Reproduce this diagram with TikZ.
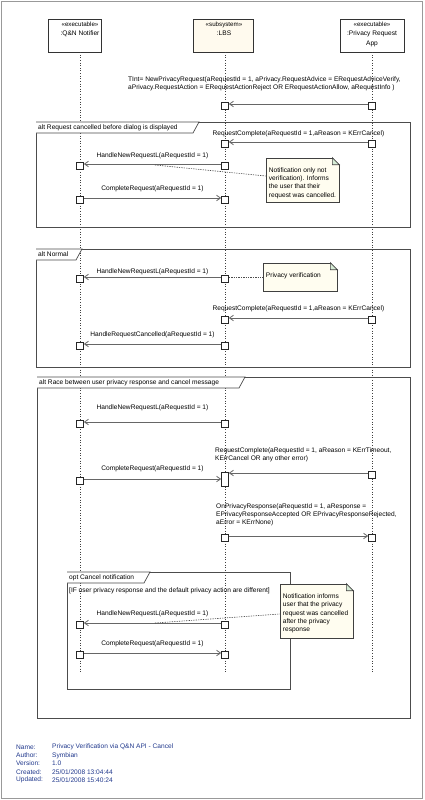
\documentclass[tikz,border=0pt]{standalone}
\usepackage{fontspec}
\setmainfont{Liberation Sans}
\usetikzlibrary{arrows.meta}
\definecolor{lbsfill}{RGB}{255,250,238}
\definecolor{notefill}{RGB}{255,253,240}
\definecolor{earfill}{RGB}{214,236,214}
\definecolor{infoblue}{RGB}{32,56,140}
\newcommand\msgfont{\fontsize{6.6}{8}\selectfont}
\newcommand\notefont{\fontsize{6.6}{8.3}\selectfont}
\newcommand\stfont{\fontsize{6.2}{9.3}\selectfont}
% folded corner of a note
\newcommand\dogear[1]{%
  \fill[white] ([xshift=-7pt,yshift=0.6pt]#1.north east) -- ([xshift=0.6pt,yshift=0.6pt]#1.north east) -- ([xshift=0.6pt,yshift=-7pt]#1.north east) -- cycle;
  \draw[notebody, fill=earfill] ([xshift=-7pt]#1.north east) -- ([xshift=-7pt,yshift=-7pt]#1.north east) -- ([yshift=-7pt]#1.north east) -- cycle;}

\begin{document}
\begin{tikzpicture}[x=1pt, y=-1pt,
  head/.style = {draw=black!80, minimum height=33pt, inner sep=0, line width=0.6pt},
  headtxt/.style = {align=center, font=\fontsize{6.6}{9.3}\selectfont, inner sep=0, anchor=north},
  act/.style = {draw=black!85, fill=white, minimum width=7pt, minimum height=7pt, inner sep=0, line width=0.6pt},
  life/.style = {draw=black!75, dotted, line width=0.6pt},
  msg/.style = {draw=black!60, line width=0.8pt, -{Straight Barb[length=4pt,width=5.5pt]}},
  lbl/.style = {font=\msgfont, inner sep=0},
  frame/.style = {draw=black!70, line width=0.7pt},
  tabshape/.style = {draw=black!70, line width=0.7pt, fill=white},
  notebody/.style = {draw=black!75, fill=notefill, inner sep=0, line width=0.6pt},
  notetxt/.style = {font=\notefont, align=left, inner sep=0, anchor=north west},
  link/.style = {draw=black!70, dash pattern=on 1.3pt off 1.1pt, line width=0.6pt},
  info/.style = {font=\msgfont, text=infoblue, inner sep=0, anchor=west}]

\useasboundingbox (0,0) rectangle (424,800);
\draw[black!40, line width=1.4pt] (1.5,1.5) rectangle (422.5,798.5);

% lifeline heads
\node[head, minimum width=53pt] (qn) at (74.5,35.5) {};
\node[head, minimum width=60pt, fill=lbsfill] (ln) at (223,35.5) {};
\node[head, minimum width=64pt] (pn) at (372,35.5) {};
\node[headtxt] (qnt) at (80,22) {{\stfont «executable»}\\:Q\&N Notifier};
\node[headtxt] (lnt) at (224,22) {{\stfont «subsystem»}\\:LBS};
\node[headtxt] (pnt) at (372,22) {{\stfont «executable»}\\:Privacy Request\\App};

\coordinate (qend) at (80,672);
\coordinate (lend) at (225,672);
\coordinate (pend) at (372,672);
\draw[life] (qn.south -| qend) -- (qend);
\draw[life] (ln.south -| lend) -- (lend);
\draw[life] (pn.south -| pend) -- (pend);

% combined fragments
\draw[frame] (36,122) rectangle (410,227);
\draw[tabshape] (36,122) -- (199,122) -- (193,133) -- (36,133);
\node[lbl, anchor=west] (f1) at (38,127.5) {alt Request cancelled before dialog is displayed};

\draw[frame] (36,249) rectangle (410,367);
\draw[tabshape] (36,249) -- (82,249) -- (76,260) -- (36,260);
\node[lbl, anchor=west] (f2) at (38,254.5) {alt Normal};

\draw[frame] (37,377) rectangle (410,718);
\draw[tabshape] (37,377) -- (245,377) -- (239,388) -- (37,388);
\node[lbl, anchor=west] (f3) at (39,382.5) {alt Race between user privacy response and cancel message};

\draw[frame] (67,572) rectangle (290,689);
\draw[tabshape] (67,572) -- (150,572) -- (144,583) -- (67,583);
\node[lbl, anchor=west] (f4) at (69,577.5) {opt Cancel notification};
\node[lbl, anchor=west] (g4) at (69,591) {[IF user privacy response and the default privacy action are different]};

% activations
\node[act] (l1) at (225,106) {};
\node[act] (p1) at (372,106) {};
\node[act] (l2) at (225,144) {};
\node[act] (p2) at (372,144) {};
\node[act] (q3) at (80,166) {};
\node[act] (l3) at (225,166) {};
\node[act] (q4) at (80,200) {};
\node[act] (l4) at (225,200) {};
\node[act] (q5) at (80,279) {};
\node[act] (l5) at (225,279) {};
\node[act] (l6) at (225,320) {};
\node[act] (p6) at (372,320) {};
\node[act] (q7) at (80,346) {};
\node[act] (l7) at (225,346) {};
\node[act] (q8) at (80,424) {};
\node[act] (l8) at (225,424) {};
\node[act] (p9) at (372,475) {};
\node[act, minimum height=14pt] (l9) at (225,479) {};
\node[act] (q10) at (80,481) {};
\node[act] (l11) at (225,538) {};
\node[act] (p11) at (372,538) {};
\node[act] (q12) at (80,625) {};
\node[act] (l12) at (225,625) {};
\node[act] (q13) at (80,655) {};
\node[act] (l13) at (225,655) {};

% messages
\node[lbl, anchor=west, align=left] (m1) at (128,84) {TInt= NewPrivacyRequest(aRequestId = 1, aPrivacy.RequestAdvice = ERequestAdviceVerify,\\aPrivacy.RequestAction = ERequestActionReject OR ERequestActionAllow, aRequestInfo )};
\draw[msg] ([yshift=2pt]p1.west) -- ([yshift=2pt]l1.east);

\draw[msg] ([yshift=2pt]p2.west) -- node[lbl, yshift=8pt] {RequestComplete(aRequestId = 1,aReason = KErrCancel)} ([yshift=2pt]l2.east);
\draw[msg] ([yshift=2pt]l3.west) -- node[lbl, yshift=8pt] {HandleNewRequestL(aRequestId = 1)} ([yshift=2pt]q3.east);
\draw[msg] ([yshift=2pt]q4.east) -- node[lbl, yshift=9pt] {CompleteRequest(aRequestId = 1)} ([yshift=2pt]l4.west);

\draw[msg] ([yshift=2pt]l5.west) -- node[lbl, yshift=5.5pt] {HandleNewRequestL(aRequestId = 1)} ([yshift=2pt]q5.east);
\draw[msg] ([yshift=2pt]p6.west) -- node[lbl, yshift=9pt] {RequestComplete(aRequestId = 1,aReason = KErrCancel)} ([yshift=2pt]l6.east);
\draw[msg] ([yshift=2pt]l7.west) -- node[lbl, yshift=9pt] {HandleRequestCancelled(aRequestId = 1)} ([yshift=2pt]q7.east);

\draw[msg] ([yshift=2pt]l8.west) -- node[lbl, yshift=14pt] {HandleNewRequestL(aRequestId = 1)} ([yshift=2pt]q8.east);
\node[lbl, anchor=west, align=left] (m9) at (215,455) {RequestComplete(aRequestId = 1, aReason = KErrTimeout,\\KErrCancel OR any other error)};
\draw[msg] ([yshift=2pt]p9.west) -- ([yshift=6pt]l9.east);
\draw[msg] ([yshift=2pt]q10.east) -- node[lbl, yshift=10pt] {CompleteRequest(aRequestId = 1)} (l9.west);
\node[lbl, anchor=west, align=left] (m11) at (216,515) {OnPrivacyResponse(aRequestId = 1, aResponse =\\EPrivacyResponseAccepted OR EPrivacyResponseRejected,\\aError = KErrNone)};
\draw[msg] ([yshift=2pt]l11.east) -- ([yshift=2pt]p11.west);

\draw[msg] ([yshift=2pt]l12.west) -- node[lbl, yshift=9pt] {HandleNewRequestL(aRequestId = 1)} ([yshift=2pt]q12.east);
\draw[msg] ([yshift=2pt]q13.east) -- node[lbl, yshift=9pt] {CompleteRequest(aRequestId = 1)} ([yshift=2pt]l13.west);

% notes
\node[notebody, minimum width=73pt, minimum height=44pt] (n1) at (302.5,180) {};
\dogear{n1}
\node[notetxt] (n1t) at ([xshift=3pt,yshift=-9.5pt]n1.north west) {Notification only not\\verification). Informs\\the user that their\\request was cancelled.};
\coordinate (k1) at (155,165);
\draw[link] (k1) -- ([yshift=4pt]n1.west);

\node[notebody, minimum width=74pt, minimum height=28pt] (n2) at (300,277) {};
\dogear{n2}
\node[notetxt] (n2t) at ([xshift=3pt,yshift=-9.5pt]n2.north west) {Privacy verification};
\draw[link] ([yshift=2pt]l5.east) -- (n2.west);

\node[notebody, minimum width=73pt, minimum height=54pt] (n3) at (316.5,611) {};
\dogear{n3}
\node[notetxt] (n3t) at ([xshift=3pt,yshift=-10pt]n3.north west) {Notification informs\\user that the privacy\\request was cancelled\\after the privacy\\response};
\coordinate (k3) at (155,623);
\draw[link] (k3) -- ([yshift=-3pt]n3.west);

% diagram info
\node[info] (i1) at (16,747) {Name:};
\node[info] (i2) at (16,755.3) {Author:};
\node[info] (i3) at (16,763.5) {Version:};
\node[info] (i4) at (16,771.8) {Created:};
\node[info] (i5) at (16,780) {Updated:};
\node[info] (v1) at (52,747) {Privacy Verification via Q\&N API - Cancel};
\node[info] (v2) at (52,755.3) {Symbian};
\node[info] (v3) at (52,763.5) {1.0};
\node[info] (v4) at (52,771.8) {25/01/2008 13:04:44};
\node[info] (v5) at (52,780) {25/01/2008 15:40:24};

\end{tikzpicture}
\end{document}
